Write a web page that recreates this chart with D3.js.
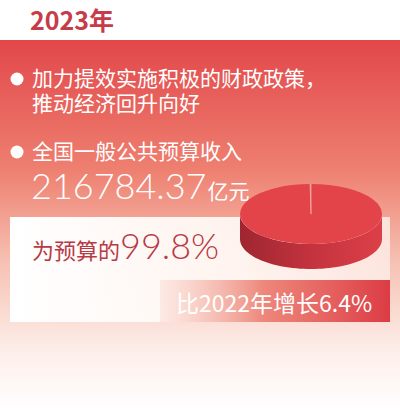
<!DOCTYPE html><html><head><meta charset="utf-8"><script src="https://cdn.jsdelivr.net/npm/d3@7"></script>
<style>body{margin:0;background:#fff}text{font-family:"Noto Sans CJK SC","Noto Sans",sans-serif}</style></head><body>
<script>
const year="2023年";
const lines=["加力提效实施积极的财政政策，","推动经济回升向好"];
const revenueLabel="全国一般公共预算收入";
const revenueValue="216784.37";
const revenueUnit="亿元";
const pieLabels=["完成","未完成"];
const pieValues=[99.8,0.2];
const pctLabel="为预算的";
const pctValue="99.8%";
const growth="比2022年增长6.4%";
const W=400,H=412;
const svg=d3.select("body").append("svg").attr("width",W).attr("height",H);
const defs=svg.append("defs");
const g1=defs.append("linearGradient").attr("id","bg").attr("x1",0).attr("y1",0).attr("x2",0).attr("y2",1);
[[0,"#e2474a"],[0.35,"#ee8070"],[0.6,"#f6c2b4"],[0.85,"#fdf0ec"],[1,"#ffffff"]].forEach(s=>g1.append("stop").attr("offset",s[0]).attr("stop-color",s[1]));
svg.append("rect").attr("x",0).attr("y",40).attr("width",W).attr("height",H-40).attr("fill","url(#bg)");
const g2=defs.append("linearGradient").attr("id","wp").attr("x1",0).attr("y1",0).attr("x2",1).attr("y2",0);
[[0,"#ffffff",1],[0.6,"#fff6f2",0.95],[1,"#fde9e3",0.9]].forEach(s=>g2.append("stop").attr("offset",s[0]).attr("stop-color",s[1]).attr("stop-opacity",s[2]));
svg.append("rect").attr("x",10).attr("y",217).attr("width",380).attr("height",105).attr("fill","url(#wp)");
const g3=defs.append("linearGradient").attr("id","rb").attr("x1",0).attr("y1",0).attr("x2",1).attr("y2",0);
[[0,"#f3b3a3",0.2],[0.45,"#ec7b6e",0.9],[1,"#dc3c44",1]].forEach(s=>g3.append("stop").attr("offset",s[0]).attr("stop-color",s[1]).attr("stop-opacity",s[2]));
svg.append("rect").attr("x",160).attr("y",280).attr("width",230).attr("height",42).attr("fill","url(#rb)");
svg.append("text").attr("x",30).attr("y",30).attr("font-size",25).attr("font-weight",700).attr("fill","#c63c48").text(year);
const bullet=(y)=>svg.append("circle").attr("cx",17).attr("cy",y).attr("r",6.5).attr("fill","#fff");
bullet(79);bullet(152);
const para=svg.append("text").attr("x",32).attr("y",86).attr("font-size",21).attr("fill","#fff");
lines.forEach((t,i)=>para.append("tspan").attr("x",32).attr("dy",i?25:0).text(t));
svg.append("text").attr("x",32).attr("y",159).attr("font-size",21).attr("fill","#fff").text(revenueLabel);
const rv=svg.append("text").attr("x",31).attr("y",199).attr("fill","#fff");
rv.append("tspan").attr("font-size",36).attr("font-weight",300).attr("font-family","Lato, 'Noto Sans', sans-serif").text(revenueValue);
rv.append("tspan").attr("font-size",21).attr("dx",1).text(revenueUnit);
const pv=svg.append("text").attr("x",32).attr("y",259).attr("fill","#b73a44");
pv.append("tspan").attr("font-size",22).text(pctLabel);
pv.append("tspan").attr("font-size",36).attr("font-weight",300).attr("font-family","Lato, 'Noto Sans', sans-serif").text(pctValue);
svg.append("text").attr("x",176).attr("y",312).attr("font-size",23).attr("fill","#fff").text(growth);
// 3D pie
const cx=311,cy=214,rx=71,ry=30,depth=25;
const pie=d3.pie().sort(null)(pieValues);
const pg=svg.append("g").attr("transform",`translate(${cx},${cy})`);
const side=defs.append("linearGradient").attr("id","sd").attr("x1",0).attr("y1",0).attr("x2",1).attr("y2",0);
[[0,"#9e2630"],[0.5,"#c3333e"],[1,"#dc4048"]].forEach(s=>side.append("stop").attr("offset",s[0]).attr("stop-color",s[1]));
const n=60,pts=[];
for(let i=0;i<=n;i++){const a=Math.PI*i/n;pts.push([rx*Math.cos(a),ry*Math.sin(a)]);}
pg.append("path").attr("d",d3.line()(pts.map(p=>[p[0],p[1]+depth]).concat(pts.slice().reverse()))+"Z").attr("fill","url(#sd)");
const arc=d3.arc().innerRadius(0).outerRadius(rx);
const topFace=pg.append("g").attr("transform",`scale(1,${ry/rx})`);
topFace.selectAll("path").data(pie).join("path").attr("d",arc).attr("fill",(d,i)=>i?"#f08a80":"#e3444a").attr("stroke",(d,i)=>i?"#f6b0a8":"none").attr("stroke-width",1);
</script></body></html>
